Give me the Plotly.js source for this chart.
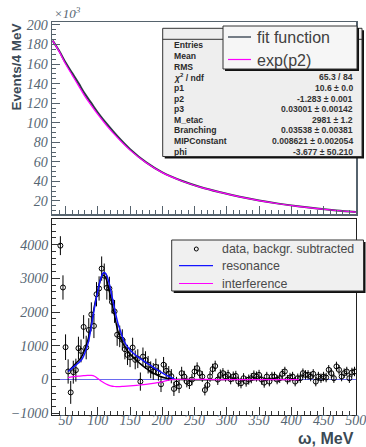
<!DOCTYPE html>
<html><head><meta charset="utf-8">
<script src="https://cdn.plot.ly/plotly-3.0.1.min.js"></script>
<style>html,body{margin:0;padding:0;background:#fff;}#chart{width:366px;height:447px;}</style>
</head><body><div id="chart"></div>
<script>
// ---------- top panel: fitted curves (units of 10^3 events / 4 MeV) ----------
const topX        = [30,40,50,60,70,80,90,100,115,130,150,175,200,230,260,290,320,350,380,410,440,470,500];
const fitFunction = [184,173.5,161.5,151,140.5,129.5,120,110.5,98,86.5,73,59.5,49.3,40.7,34.1,28.9,24.3,20.5,17.3,14.6,12.3,10.4,8.8];
const expP2       = [184,173,160,149,138,127,117.5,108.5,96,85,72,59,49,40.5,34,28.8,24.2,20.4,17.2,14.5,12.2,10.3,8.7];

// ---------- stats box ----------
const statLabels = ["Entries","Mean","RMS","<i>χ</i><sup>2</sup> / ndf","p1","p2","p3","M_etac","Branching","MIPConstant","phi"];
const statValues = ["","","","65.3 / 84","10.6 ± 0.0","-1.283 ± 0.001","0.03001 ± 0.00142","2981 ± 1.2","0.03538 ± 0.00381","0.008621 ± 0.002054","-3.677 ± 50.210"];

// ---------- bottom panel: background-subtracted data ----------
const dataX = [42,46,50,54,58,62,66,70,74,78,82,86,90,94,98,102,106,110,114,118,122,126,130,134,138,142,146,150,154,158,162,166,170,174,178,182,186,190,194,198,202,206,210,214,218,222,226,230,
 234,238,242,246,250,254,258,262,266,270,274,278,282,286,290,294,298,302,306,310,314,318,322,326,330,334,338,342,346,350,354,358,362,366,370,374,378,382,386,390,394,398,402,406,410,414,418,422,426,430,434,438,442,446,450,454,458,462,466,470,474,478,482,486,490,494,498];
const dataY = [3970,2730,960,240,-380,220,280,930,850,1560,950,1470,1930,1590,2530,2700,3290,3080,2720,2700,2300,2020,1330,1280,1180,900,730,660,950,585,620,-60,680,580,440,290,240,380,210,-140,440,260,180,100,-275,-120,-200,190,
 90,-60,-110,0,240,340,190,90,-310,-160,90,310,400,0,140,190,90,140,10,90,110,-60,-110,40,-60,0,40,120,90,140,0,-90,90,-60,90,90,0,40,170,240,0,60,90,-60,40,40,190,140,140,90,170,-60,90,40,90,60,290,190,40,390,290,90,190,240,40,210,240];
const dataErr = [280,360,380,360,340,340,340,340,340,350,350,350,360,360,360,360,360,360,350,350,340,340,330,320,310,300,300,290,290,280,280,270,270,260,260,250,250,240,240,230,230,220,220,210,210,200,200,190,
 170,170,170,170,170,170,160,160,160,160,160,160,160,160,160,150,150,150,150,150,150,150,150,150,150,150,150,150,150,150,150,150,140,140,140,140,140,140,140,140,140,140,140,140,140,140,140,140,140,140,140,140,140,140,140,140,140,140,140,140,140,140,140,140,140,140,140];

// resonance (blue)
const resX = [54,60,66,72,76,80,85,90,95,100,104,108,110,113,117,121,126,131,136,141,148,155,165,175,185,196,205,212,220];
const resY = [240,330,430,530,620,790,1080,1580,2150,2620,2950,3150,3175,3120,2900,2560,2100,1680,1390,1130,920,780,635,500,380,240,140,80,0];
// total fit (black)
const totX = [54,60,66,72,76,80,85,90,95,100,104,107,110,113,117,121,126,131,136,141,149,157,165,175,186,196,206,215,225,300,412];
const totY = [240,360,480,600,720,900,1200,1650,2200,2650,2950,3100,3080,2980,2700,2350,1900,1450,1200,1000,780,620,485,330,190,100,40,10,0,0,0];
// interference (magenta)
const intX = [54,60,66,72,78,84,90,95,100,105,110,115,120,126,132,140,150,165,180,195,207,215,300,412];
const intY = [60,80,95,105,115,125,125,100,30,-40,-100,-150,-185,-205,-210,-200,-185,-160,-130,-85,-30,0,0,0];

// ---------- tick labels ----------
const xTicks = [50,100,150,200,250,300,350,400,450,500];
const yTopTicks = [20,40,60,80,100,120,140,160,180,200];
const yBotTicks = [-1000,0,1000,2000,3000,4000];

const W = 366, H = 447;
const PX = x => x / W, PY = y => 1 - y / H;
const tickFont = {family:'Liberation Serif', size:14, color:'#566673', style:'italic'};
const xRange = [29,500.3];

const traces = [
  {x: topX, y: fitFunction, xaxis:'x2', yaxis:'y2', mode:'lines', name:'fit function',
   line:{color:'#2e3b46', width:2, shape:'spline'}},
  {x: topX, y: expP2, xaxis:'x2', yaxis:'y2', mode:'lines', name:'exp(p2)',
   line:{color:'#ff00ff', width:1.2, shape:'spline'}},
  {x: dataX, y: dataY, xaxis:'x', yaxis:'y', mode:'markers', name:'data, backgr. subtracted',
   marker:{symbol:'circle-open', size:5, color:'#000', line:{width:1, color:'#000'}},
   error_y:{type:'data', array:dataErr, visible:true, color:'#000', thickness:1, width:0}},
  // invisible copy bound to the label-only axis so that axis gets drawn
  {x: dataX, y: dataY, xaxis:'x3', yaxis:'y', mode:'markers', marker:{opacity:0, size:1}, hoverinfo:'skip', name:'axis helper'},
  {x: totX, y: totY, xaxis:'x', yaxis:'y', mode:'lines', name:'total',
   line:{color:'#000', width:1.5, shape:'spline'}},
  {x: resX, y: resY, xaxis:'x', yaxis:'y', mode:'lines', name:'resonance',
   line:{color:'#1414ff', width:1.5, shape:'spline'}},
  {x: intX, y: intY, xaxis:'x', yaxis:'y', mode:'lines', name:'interference',
   line:{color:'#ff00ff', width:1.2, shape:'spline'}}
];

const shapes = [];
function box(x0,y0,x1,y1,fill){
  shapes.push({type:'rect', xref:'paper', yref:'paper', x0:PX(x0+2), x1:PX(x1+2), y0:PY(y0+2), y1:PY(y1+2),
    fillcolor:'#111', line:{width:0}, layer:'above'});
  shapes.push({type:'rect', xref:'paper', yref:'paper', x0:PX(x0), x1:PX(x1), y0:PY(y0), y1:PY(y1),
    fillcolor:fill, line:{width:1, color:'#333'}, layer:'above'});
}
function hline(x0,x1,y,color,w){
  shapes.push({type:'line', xref:'paper', yref:'paper', x0:PX(x0), x1:PX(x1), y0:PY(y), y1:PY(y),
    line:{color:color, width:w}, layer:'above'});
}
// stats box
box(162.7, 28.3, 362, 156.5, '#eeeeee');
hline(162.7, 362, 39.3, '#333', 1);
// top legend
box(223, 26, 357, 69, '#f6f6f6');
hline(228, 251, 37, '#4a5560', 1.5);
hline(228, 251, 59.5, '#ff00ff', 1.2);
// bottom legend
box(171.7, 240, 363.5, 291, '#f0f0f0');
hline(179, 213, 265.7, '#1414ff', 1.2);
hline(179, 213, 283.5, '#ff00ff', 1.2);
shapes.push({type:'circle', xref:'paper', yref:'paper', x0:PX(194.3), x1:PX(198.3), y0:PY(247), y1:PY(251),
  line:{color:'#000', width:1}, fillcolor:'rgba(0,0,0,0)', layer:'above'});

const annotations = [];
const rowY0 = 45.5, rowStep = 10.6;
statLabels.forEach((t,i) => {
  annotations.push({xref:'paper', yref:'paper', x:PX(171.5), y:PY(rowY0 + i*rowStep), xanchor:'left', yanchor:'middle',
    text:'<b>'+t+'</b>', showarrow:false, font:{family:'Liberation Sans', size:8.6, color:'#2a2a2a'}});
  if (statValues[i]) annotations.push({xref:'paper', yref:'paper', x:PX(354.5), y:PY(rowY0 + i*rowStep), xanchor:'right', yanchor:'middle',
    text:'<b>'+statValues[i]+'</b>', showarrow:false, font:{family:'Liberation Sans', size:8.6, color:'#333'}});
});
const legTop = [['fit function', 38], ['exp(p2)', 60.5]];
legTop.forEach(([t,y]) => annotations.push({xref:'paper', yref:'paper', x:PX(255), y:PY(y), xanchor:'left', yanchor:'middle',
  text:t, showarrow:false, font:{family:'Liberation Sans', size:16, color:'#404040'}}));
const legBot = [['data, backgr. subtracted', 249], ['resonance', 265.7], ['interference', 284]];
legBot.forEach(([t,y]) => annotations.push({xref:'paper', yref:'paper', x:PX(219.5), y:PY(y), xanchor:'left', yanchor:'middle',
  text:t, showarrow:false, font:{family:'Liberation Sans', size:12.4, color:'#4a4a4a'}}));
annotations.push({xref:'paper', yref:'paper', x:PX(52), y:PY(13), xanchor:'left', yanchor:'middle',
  text:'×10<sup>3</sup>', showarrow:false, font:{family:'Liberation Serif', size:13, color:'#566673', style:'italic'}});
annotations.push({xref:'paper', yref:'paper', x:PX(16), y:PY(22), xanchor:'center', yanchor:'top', textangle:-90,
  text:'<b>Events/4 MeV</b>', showarrow:false, font:{family:'Liberation Sans', size:13.5, color:'#3c4a56'}});
annotations.push({xref:'paper', yref:'paper', x:PX(356), y:PY(438), xanchor:'right', yanchor:'middle',
  text:'<b>ω, MeV</b>', showarrow:false, font:{family:'Liberation Sans', size:16, color:'#3b4a55'}});

const axCommonX = {range:xRange, tickmode:'array', tickvals:xTicks, ticks:'inside', ticklen:8, tickwidth:1,
  showgrid:false, zeroline:false, showline:true, mirror:true,
  minor:{ticks:'inside', ticklen:4, dtick:10, tick0:0, showgrid:false}};

const layout = {
  width:W, height:H, margin:{l:0,r:0,t:0,b:0}, showlegend:false,
  paper_bgcolor:'#fff', plot_bgcolor:'#fff',
  xaxis: Object.assign({}, axCommonX, {domain:[PX(52),PX(356)], anchor:'y', linecolor:'#222', tickcolor:'#333',
    minor:Object.assign({}, axCommonX.minor, {tickcolor:'#333'}), showticklabels:false}),
  // label-only axis carrying the bottom tick labels, tucked just under the frame
  xaxis3: {overlaying:'x', anchor:'free', position:PY(410), domain:[PX(52),PX(356)], range:xRange,
    tickmode:'array', tickvals:xTicks, ticks:'', showline:false, showgrid:false, zeroline:false,
    tickfont:tickFont, showticklabels:true, ticklabeloverflow:'allow', side:'bottom'},
  yaxis: {domain:[PY(415),PY(219)], anchor:'x', range:[-1050,4760], tickmode:'array', tickvals:yBotTicks,
    ticks:'inside', ticklen:8, tickcolor:'#333', showgrid:false, showline:true, mirror:true, linecolor:'#222',
    zeroline:true, zerolinecolor:'#6a6af0', zerolinewidth:1, tickfont:tickFont,
    minor:{ticks:'inside', ticklen:4, dtick:200, tick0:0, tickcolor:'#333', showgrid:false}},
  xaxis2: Object.assign({}, axCommonX, {domain:[PX(52),PX(356)], anchor:'y2', linecolor:'#56636d', linewidth:1.5,
    tickcolor:'#56636d', minor:Object.assign({}, axCommonX.minor, {tickcolor:'#56636d'}), showticklabels:false}),
  yaxis2: {domain:[PY(214),PY(22)], anchor:'x2', range:[6.7,203], tickmode:'array', tickvals:yTopTicks,
    ticks:'inside', ticklen:8, tickcolor:'#56636d', showgrid:false, showline:true, mirror:true, linecolor:'#56636d', linewidth:1.5,
    zeroline:false, tickfont:tickFont,
    minor:{ticks:'inside', ticklen:4, dtick:5, tick0:0, tickcolor:'#56636d', showgrid:false}},
  shapes: shapes, annotations: annotations
};

Plotly.newPlot('chart', traces, layout, {staticPlot:true, displayModeBar:false});
</script></body></html>
